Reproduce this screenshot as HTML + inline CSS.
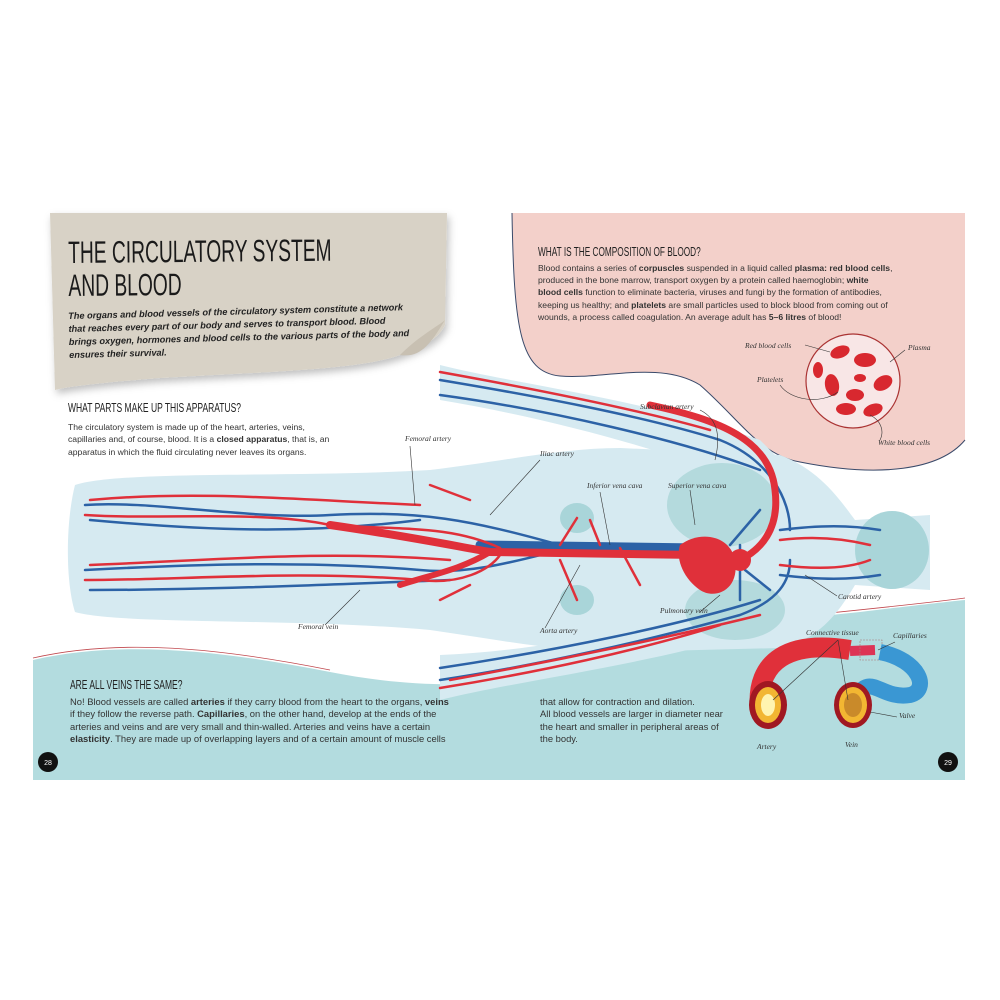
<!DOCTYPE html>
<html><head><meta charset="utf-8"><style>
html,body{margin:0;padding:0;background:#fff}
body{width:1000px;height:1000px;position:relative;overflow:hidden;font-family:"Liberation Sans",sans-serif}
svg{position:absolute;left:0;top:0}
.t{position:absolute;color:#333;font-size:8.6px;line-height:12.4px;white-space:nowrap}
.h{position:absolute;font-family:"Liberation Sans",sans-serif;color:#222;font-size:12.5px;white-space:nowrap;transform:scaleX(0.68);transform-origin:left top}
.l{position:absolute;font-family:"Liberation Serif",serif;font-style:italic;font-size:7.5px;color:#333;white-space:nowrap}
</style></head><body>
<svg width="1000" height="1000" viewBox="0 0 1000 1000">
<defs>
<filter id="sh" x="-10%" y="-10%" width="130%" height="140%"><feDropShadow dx="2" dy="4" stdDeviation="4" flood-color="#000" flood-opacity="0.25"/></filter>
</defs>
<path d="M512,213 L965,213 L965,440 C940,470 880,478 800,462 C760,455 740,420 700,385 C660,360 600,380 560,376 C520,372 514,330 512,213 Z" fill="#f3d0ca"/>
<path d="M512,213 C514,330 520,372 560,376 C600,380 660,360 700,385 C740,420 760,455 800,462 C880,478 940,470 965,440" fill="none" stroke="#3a4a6a" stroke-width="1"/>
<path d="M33,660 C120,640 220,650 330,672 C420,690 520,690 600,660 C700,630 780,620 860,612 C910,606 945,602 965,600 L965,780 L33,780 Z" fill="#b3dcdf"/>
<path d="M33,658 C120,638 220,648 330,670" fill="none" stroke="#c0484e" stroke-width="0.8"/>
<path d="M780,618 C860,610 920,604 965,598" fill="none" stroke="#c0484e" stroke-width="0.8"/>
<g fill="#d6eaf1">
<path d="M75,485 C120,470 300,478 430,470 C500,462 560,448 620,448 L780,455 C820,470 840,500 855,520 L930,515 L930,590 L855,585 C840,610 820,640 780,648 L620,652 C560,652 500,640 430,630 C300,618 120,625 75,612 C65,580 66,520 75,485 Z"/>
<path d="M440,365 C520,385 650,400 760,440 L790,470 L770,490 C680,455 560,420 440,400 Z"/>
<path d="M440,700 C520,680 650,665 760,630 L790,610 L770,590 C680,620 560,650 440,655 Z"/>
</g>
<ellipse cx="892" cy="550" rx="37" ry="39" fill="#a9d5d9"/>
<ellipse cx="722" cy="505" rx="55" ry="42" fill="#b4dadd"/>
<ellipse cx="735" cy="610" rx="50" ry="30" fill="#b4dadd"/>
<ellipse cx="577" cy="518" rx="17" ry="15" fill="#a9d5d9"/>
<ellipse cx="577" cy="600" rx="17" ry="15" fill="#a9d5d9"/>
<g fill="none" stroke-linecap="round">
<g stroke="#2c62a6" stroke-width="2.5">
<path d="M85,505 C150,500 250,520 330,515 C420,510 470,520 560,545"/>
<path d="M90,520 C200,530 300,535 420,520"/>
<path d="M85,570 C180,565 300,560 420,570 C470,575 520,560 560,550"/>
<path d="M90,590 C200,590 320,585 450,580"/>
<path d="M440,380 C530,395 640,415 720,440 C770,460 790,500 790,530"/>
<path d="M440,395 C550,410 680,440 760,470"/>
<path d="M440,680 C540,665 650,640 740,615 C780,600 790,580 790,560"/>
<path d="M440,668 C560,650 680,625 760,600"/>
<path d="M780,530 C820,525 850,525 880,530"/>
<path d="M780,575 C820,580 850,580 880,575"/>
<path d="M730,545 L760,510 M740,545 L740,600 M745,570 L770,590"/>
</g>
<path d="M480,545 L700,548" stroke="#2c62a6" stroke-width="9"/>
<g stroke="#e0303a" stroke-width="2.5">
<path d="M85,515 C160,520 260,510 330,525 C400,530 450,525 500,548"/>
<path d="M90,500 C200,490 300,500 420,505"/>
<path d="M85,580 C180,580 300,570 420,580 C460,585 490,570 500,555"/>
<path d="M90,565 C220,560 320,550 450,560"/>
<path d="M440,372 C540,390 640,410 710,430"/>
<path d="M440,688 C540,672 640,650 720,625"/>
<path d="M450,680 C560,660 680,635 760,615"/>
<path d="M780,540 C820,535 850,540 870,545"/>
<path d="M780,565 C820,570 850,568 870,560"/>
<path d="M430,485 L470,500 M440,600 L470,585 M600,545 L590,520 M620,548 L640,585 M560,545 L577,518 M560,560 L577,600"/>
</g>
<path d="M330,525 C400,535 450,545 490,552 L700,555" stroke="#e0303a" stroke-width="8"/>
<path d="M650,405 C720,420 770,440 775,490 C780,530 760,550 740,560" stroke="#e0303a" stroke-width="7"/>
<path d="M490,552 C460,570 430,575 400,585" stroke="#e0303a" stroke-width="6"/>
</g>
<path d="M680,545 C700,530 730,535 735,560 C740,590 715,600 700,590 C685,580 675,560 680,545 Z" fill="#e0303a"/>
<circle cx="740" cy="560" r="11" fill="#e0303a"/>
<path d="M50,213 L447,213 L445,325 C440,335 430,345 400,355 C360,370 260,372 160,378 C110,382 70,386 55,390 Z" fill="#d8d2c6" filter="url(#sh)"/>
<path d="M400,355 C420,335 440,325 445,320 C430,345 420,358 400,355 Z" fill="#c8c0b2"/>
<circle cx="853" cy="381" r="47" fill="#f8e6e6" stroke="#a33" stroke-width="1.2"/>
<g fill="#d8282f">
<ellipse cx="840" cy="352" rx="10" ry="6" transform="rotate(-20 840 352)"/>
<ellipse cx="865" cy="360" rx="11" ry="7"/>
<ellipse cx="883" cy="383" rx="10" ry="7" transform="rotate(-30 883 383)"/>
<ellipse cx="832" cy="385" rx="7" ry="11" transform="rotate(-10 832 385)"/>
<ellipse cx="855" cy="395" rx="9" ry="6"/>
<ellipse cx="846" cy="409" rx="10" ry="6"/>
<ellipse cx="873" cy="410" rx="10" ry="6" transform="rotate(-20 873 410)"/>
<ellipse cx="818" cy="370" rx="5" ry="8"/>
<ellipse cx="860" cy="378" rx="6" ry="4"/>
</g>
<circle cx="48" cy="762" r="10" fill="#111"/>
<circle cx="948" cy="762" r="10" fill="#111"/>
<text x="48" y="765" font-size="7" fill="#fff" text-anchor="middle" font-family="Liberation Sans">28</text>
<text x="948" y="765" font-size="7" fill="#fff" text-anchor="middle" font-family="Liberation Sans">29</text>
<path d="M760,710 C755,660 790,640 850,650" fill="none" stroke="#e0303a" stroke-width="20"/>
<path d="M850,651 L875,650" stroke="#d35" stroke-width="10"/>
<rect x="860" y="640" width="22" height="20" fill="none" stroke="#a77" stroke-width="0.6" stroke-dasharray="2 1"/>
<path d="M880,652 C920,660 930,690 910,695 C880,700 870,670 855,700" fill="none" stroke="#3a97d3" stroke-width="16"/>
<ellipse cx="768" cy="705" rx="19" ry="24" fill="#a01822"/>
<ellipse cx="768" cy="705" rx="13" ry="18" fill="#f2b632"/>
<ellipse cx="768" cy="705" rx="7" ry="11" fill="#fff4b0"/>
<ellipse cx="853" cy="705" rx="19" ry="23" fill="#a01822"/>
<ellipse cx="853" cy="705" rx="14" ry="18" fill="#f2b632"/>
<ellipse cx="853" cy="705" rx="9" ry="12" fill="#c98a2a"/>
<g stroke="#333" stroke-width="0.6" fill="none">
<path d="M805,345 L830,352 M905,350 L890,362 M780,385 C790,400 820,405 838,392 M880,440 C885,430 880,420 870,415"/>
<path d="M838,640 L773,700 M838,640 L848,700 M895,642 L878,650 M897,717 L870,712"/>
<path d="M410,446 L415,505 M540,460 L490,515 M700,410 C720,420 720,440 715,460 M600,492 L610,545 M690,490 L695,525 M837,596 L805,575 M700,612 L720,595 M545,628 L580,565 M325,625 L360,590"/>
</g>
</svg>

<div style="position:absolute;left:68px;top:236px;font-family:'Liberation Sans',sans-serif;font-size:31px;line-height:33px;color:#1a1a1a;white-space:nowrap;transform:rotate(-0.5deg) scaleX(0.62);transform-origin:left top">THE CIRCULATORY SYSTEM<br>AND BLOOD</div>
<div class="t" style="left:68px;top:310px;font-weight:bold;font-style:italic;font-size:9.2px;line-height:13px;color:#222;transform:rotate(-1.5deg);transform-origin:left top">The organs and blood vessels of the circulatory system constitute a network<br>that reaches every part of our body and serves to transport blood. Blood<br>brings oxygen, hormones and blood cells to the various parts of the body and<br>ensures their survival.</div>
<div class="h" style="left:68px;top:401px">WHAT PARTS MAKE UP THIS APPARATUS?</div>
<div class="t" style="left:68px;top:421px">The circulatory system is made up of the heart, arteries, veins,<br>capillaries and, of course, blood. It is a <b>closed apparatus</b>, that is, an<br>apparatus in which the fluid circulating never leaves its organs.</div>

<div class="h" style="left:538px;top:245px;transform:scaleX(0.66)">WHAT IS THE COMPOSITION OF BLOOD?</div>
<div class="t" style="left:538px;top:262px;line-height:12.2px">Blood contains a series of <b>corpuscles</b> suspended in a liquid called <b>plasma: red blood cells</b>,<br>produced in the bone marrow, transport oxygen by a protein called haemoglobin; <b>white</b><br><b>blood cells</b> function to eliminate bacteria, viruses and fungi by the formation of antibodies,<br>keeping us healthy; and <b>platelets</b> are small particles used to block blood from coming out of<br>wounds, a process called coagulation. An average adult has <b>5–6 litres</b> of blood!</div>

<div class="h" style="left:70px;top:678px">ARE ALL VEINS THE SAME?</div>
<div class="t" style="left:70px;top:696px;font-size:9.4px">No! Blood vessels are called <b>arteries</b> if they carry blood from the heart to the organs, <b>veins</b><br>if they follow the reverse path. <b>Capillaries</b>, on the other hand, develop at the ends of the<br>arteries and veins and are very small and thin-walled. Arteries and veins have a certain<br><b>elasticity</b>. They are made up of overlapping layers and of a certain amount of muscle cells</div>
<div class="t" style="left:540px;top:696px;font-size:9.4px">that allow for contraction and dilation.<br>All blood vessels are larger in diameter near<br>the heart and smaller in peripheral areas of<br>the body.</div>

<div class="l" style="left:745px;top:341px">Red blood cells</div>
<div class="l" style="left:908px;top:343px">Plasma</div>
<div class="l" style="left:757px;top:375px">Platelets</div>
<div class="l" style="left:878px;top:438px">White blood cells</div>
<div class="l" style="left:405px;top:434px">Femoral artery</div>
<div class="l" style="left:540px;top:449px">Iliac artery</div>
<div class="l" style="left:640px;top:402px">Subclavian artery</div>
<div class="l" style="left:587px;top:481px">Inferior vena cava</div>
<div class="l" style="left:668px;top:481px">Superior vena cava</div>
<div class="l" style="left:838px;top:592px">Carotid artery</div>
<div class="l" style="left:660px;top:606px">Pulmonary vein</div>
<div class="l" style="left:540px;top:626px">Aorta artery</div>
<div class="l" style="left:298px;top:622px">Femoral vein</div>
<div class="l" style="left:806px;top:628px">Connective tissue</div>
<div class="l" style="left:893px;top:631px">Capillaries</div>
<div class="l" style="left:899px;top:711px">Valve</div>
<div class="l" style="left:757px;top:742px">Artery</div>
<div class="l" style="left:845px;top:740px">Vein</div>
</body></html>
